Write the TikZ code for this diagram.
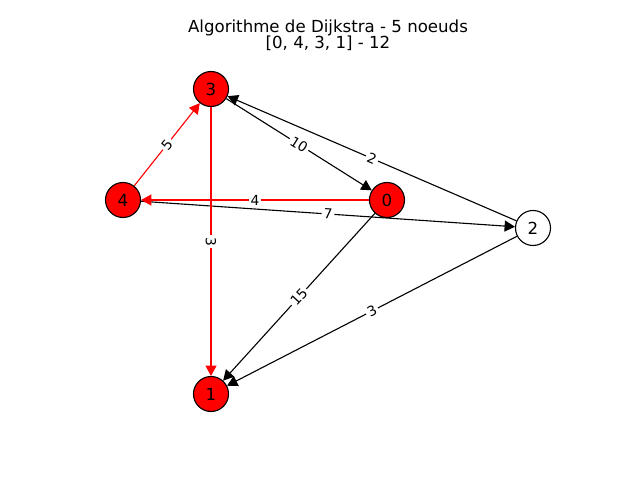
\documentclass[tikz,border=0pt]{standalone}
\usepackage{fontspec}
\setmainfont{DejaVu Sans}
\usetikzlibrary{arrows.meta}
\tikzset{%
	vertex/.style = {draw, circle, fill=red, minimum size=0.35in, inner sep=0pt,
		line width=0.8pt, font=\fontsize{12}{14}\selectfont},
	free/.style   = {vertex, fill=white}, % not on the path
	weight/.style = {midway, sloped, fill=white, text=black, inner sep=1.5pt,
		font=\fontsize{10}{12}\selectfont},
	route/.style  = {red} % shortest path
}
\begin{document}
\begin{tikzpicture}[x=0.01in,y=-0.01in,>={Triangle[length=7.5pt,width=8pt]},line width=0.8pt]
	\useasboundingbox (0,0) rectangle (640,480);
	
	\node[anchor=base,font=\fontsize{12}{14}\selectfont] at (328,32.5) (title) {Algorithme de Dijkstra - 5 noeuds};
	\node[anchor=base,font=\fontsize{12}{14}\selectfont] at (328,49) (result) {[0, 4, 3, 1] - 12};
	
	\node[vertex] at (387,200) (n0) {0};
	\node[vertex] at (211,394) (n1) {1};
	\node[free] at (533,228) (n2) {2};
	\node[vertex] at (211,89) (n3) {3};
	\node[vertex] at (123,200) (n4) {4};
	
	\draw[->] (n3) -- node[weight] {10} (n0);
	\draw[->] (n2) -- node[weight] {2} (n3);
	\draw[->] (n4) -- node[weight] {7} (n2);
	\draw[->] (n0) -- node[weight] {15} (n1);
	\draw[->] (n2) -- node[weight] {3} (n1);
	\draw[->,route] (n0) -- node[weight] {4} (n4);
	\draw[->,route] (n4) -- node[weight] {5} (n3);
	\draw[->,route] (n3) -- node[weight] {3} (n1);
	
\end{tikzpicture}
\end{document}
